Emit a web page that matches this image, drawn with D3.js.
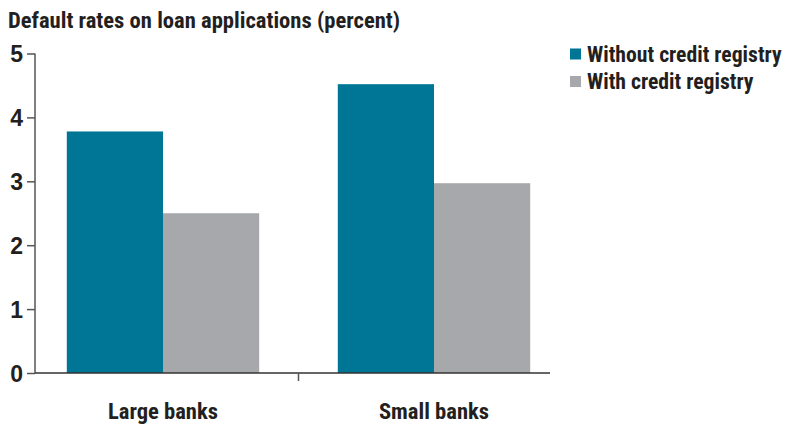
<!DOCTYPE html>
<html><head><meta charset="utf-8">
<script src="https://cdn.jsdelivr.net/npm/d3@7"></script>
<style>
body{margin:0;background:#fff;}
text{font-family:"Liberation Sans Narrow","Roboto Condensed","Arial Narrow",sans-serif;fill:#231f20;}
</style></head><body>
<svg id="c" width="785" height="425"></svg>
<script>
const categories = ["Large banks", "Small banks"];
const seriesNames = ["Without credit registry", "With credit registry"];
const withoutRegistry = [3.78, 4.52];
const withRegistry = [2.5, 2.97];
const yTicks = [0, 1, 2, 3, 4, 5];
const colors = ["#007696", "#a7a8ab"];
const title = "Default rates on loan applications (percent)";

const svg = d3.select("#c");
const data = categories.map((c, i) => ({cat: c, vals: [withoutRegistry[i], withRegistry[i]]}));

const x0 = d3.scaleBand().domain(categories).range([27.5, 569.5]).paddingInner(0.29).paddingOuter(0.145);
const x1 = d3.scaleBand().domain(seriesNames).range([0, x0.bandwidth()]);
const y = d3.scaleLinear().domain([0, 5]).range([373, 53.5]);

svg.append("text").attr("x", 8).attr("y", 28).attr("font-size", 22.6).attr("font-weight", "bold").text(title);

const g = svg.selectAll("g.grp").data(data).enter().append("g")
  .attr("transform", d => `translate(${x0(d.cat)},0)`);
g.selectAll("rect").data(d => d.vals.map((v, j) => ({name: seriesNames[j], v, j}))).enter().append("rect")
  .attr("x", d => x1(d.name)).attr("width", x1.bandwidth())
  .attr("y", d => y(d.v)).attr("height", d => y(0) - y(d.v))
  .attr("fill", d => colors[d.j]);

// y axis
const yAxis = svg.append("g").attr("transform", "translate(35,0)")
  .call(d3.axisLeft(y).tickValues(yTicks).tickSize(8).tickPadding(4).tickFormat(d3.format("d")));
yAxis.select(".domain").attr("stroke", "#555").attr("stroke-width", 1.5).attr("d", `M0,${y(5)}V${y(0)}`);
yAxis.selectAll(".tick line").attr("stroke", "#555").attr("stroke-width", 1.5);
yAxis.selectAll(".tick text").attr("font-size", 23).attr("font-weight", "bold").attr("fill", "#231f20")
  .style("font-family", "'Liberation Sans Narrow',sans-serif").attr("dy", "0.36em");

// x axis
const xAxisG = svg.append("g");
xAxisG.append("line").attr("x1", 35).attr("x2", 550).attr("y1", y(0)).attr("y2", y(0))
  .attr("stroke", "#333").attr("stroke-width", 1.5);
const boundary = (x0(categories[0]) + x0.bandwidth() + x0(categories[1])) / 2;
xAxisG.append("line").attr("x1", boundary).attr("x2", boundary).attr("y1", y(0)).attr("y2", y(0) + 8)
  .attr("stroke", "#555").attr("stroke-width", 1.5);
xAxisG.selectAll("text.cat").data(categories).enter().append("text")
  .attr("x", d => x0(d) + x0.bandwidth() / 2).attr("y", 419)
  .attr("text-anchor", "middle").attr("font-size", 22.6).attr("font-weight", "bold").text(d => d);

// legend
const leg = svg.selectAll("g.leg").data(seriesNames).enter().append("g")
  .attr("transform", (d, i) => `translate(570,${48.5 + i * 27.5})`);
leg.append("rect").attr("width", 11).attr("height", 11).attr("fill", (d, i) => colors[i]);
leg.append("text").attr("x", 17).attr("y", 13).attr("font-size", 21.7).attr("font-weight", "bold").text(d => d);
</script>
</body></html>
